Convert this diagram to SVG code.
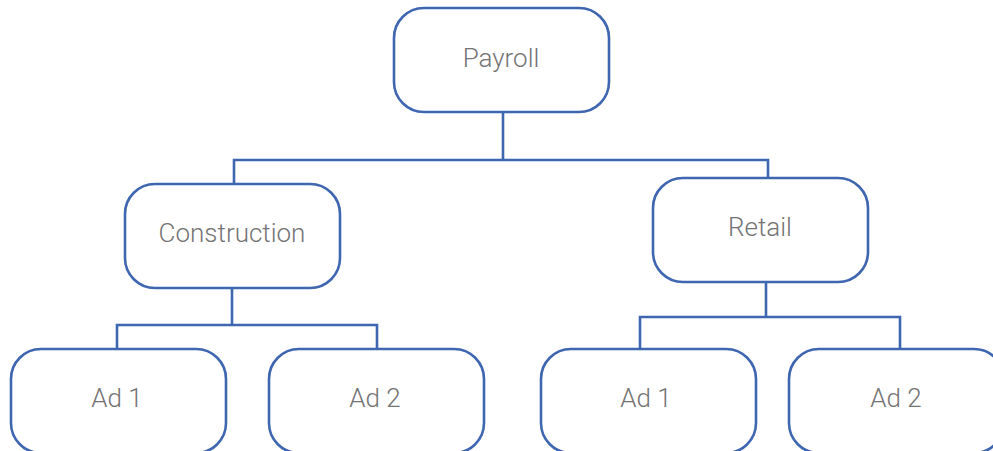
<svg xmlns="http://www.w3.org/2000/svg" width="993" height="451" viewBox="0 0 993 451">
  <style>
    .box { fill: #ffffff; stroke: #3f66b0; stroke-width: 2.6; }
    .lbl { font-family: Roboto, "Liberation Sans", sans-serif; font-weight: 300; font-size: 26px; fill: #747474; text-anchor: middle; }
    .link { fill: none; stroke: #3f66b0; stroke-width: 2.6; }
  </style>
  <rect width="993" height="451" fill="#ffffff"/>

  <g id="connectors">
    <path class="link" d="M503 112 V160 M234 183 V160 H768 V177"/>
    <path class="link" d="M232 288 V325 M117 349 V325 H377 V349"/>
    <path class="link" d="M766 282 V317 M640 349 V317 H900 V349"/>
  </g>

  <g id="payroll">
    <rect class="box" x="394" y="8" width="215" height="104" rx="30"/>
    <text class="lbl" x="501" y="67">Payroll</text>
  </g>
  <g id="construction">
    <rect class="box" x="125" y="184" width="215" height="104" rx="30"/>
    <text class="lbl" x="232" y="242">Construction</text>
  </g>
  <g id="retail">
    <rect class="box" x="653" y="178" width="215" height="104" rx="30"/>
    <text class="lbl" x="760" y="236">Retail</text>
  </g>
  <g id="construction-ad1">
    <rect class="box" x="11" y="349" width="215" height="104" rx="30"/>
    <text class="lbl" x="117" y="407">Ad 1</text>
  </g>
  <g id="construction-ad2">
    <rect class="box" x="269" y="349" width="215" height="104" rx="30"/>
    <text class="lbl" x="375" y="407">Ad 2</text>
  </g>
  <g id="retail-ad1">
    <rect class="box" x="541" y="349" width="215" height="104" rx="30"/>
    <text class="lbl" x="646" y="407">Ad 1</text>
  </g>
  <g id="retail-ad2">
    <rect class="box" x="789" y="349" width="215" height="104" rx="30"/>
    <text class="lbl" x="896" y="407">Ad 2</text>
  </g>
</svg>
